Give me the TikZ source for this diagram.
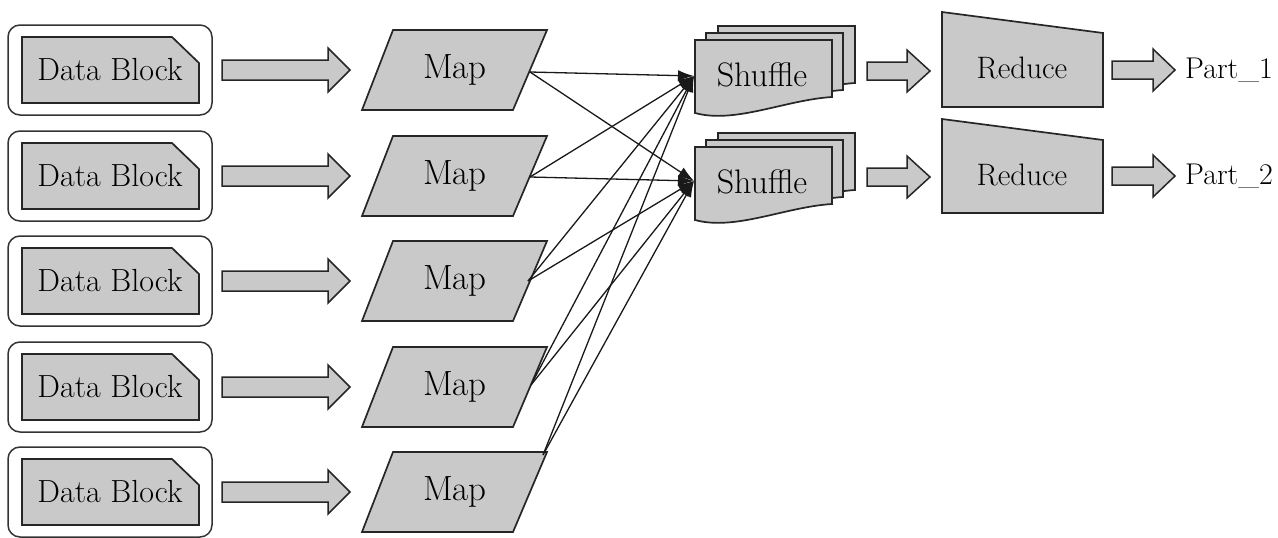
\documentclass[tikz,border=0pt]{standalone}
\usepackage{fontspec}
\usetikzlibrary{arrows.meta}
\newcommand\blockarr[6]{%
  \draw[barrow] (#1,{#4-#5}) -- (#2,{#4-#5}) -- (#2,{#4-#6}) -- (#3,#4) -- (#2,{#4+#6}) -- (#2,{#4+#5}) -- (#1,{#4+#5}) -- cycle;}
\newcommand\docpage[2]{%
  \draw[shp] (#1,#2) -- ({#1+137},#2) -- ({#1+137},{#2+57}) .. controls ({#1+90},{#2+60}) and ({#1+40},{#2+84}) .. (#1,{#2+73}) -- cycle;}
\begin{document}
\begin{tikzpicture}[x=1pt,y=-1pt,
  shp/.style={draw=black!85, line width=1.7pt, fill=black!21, line join=miter},
  outerbox/.style={draw=black!80, line width=1.5pt, rounded corners=12pt},
  barrow/.style={draw=black!85, line width=1.5pt, fill=black!21, line join=miter},
  conn/.style={draw=black!90, line width=1.3pt, -{Latex[length=16pt,width=11pt]}},
  lbl/.style={inner sep=0pt, font=\fontsize{32}{36}\selectfont},
  maplbl/.style={inner sep=0pt, font=\fontsize{35}{40}\selectfont},
  shlbl/.style={inner sep=0pt, font=\fontsize{34}{38}\selectfont},
  redlbl/.style={inner sep=0pt, font=\fontsize{31}{36}\selectfont},
  partlbl/.style={inner sep=0pt, anchor=west, font=\fontsize{30}{34}\selectfont}
]
\useasboundingbox (0,0) rectangle (1278,538);

% connector endpoints
\coordinate (mo1) at (530,72);
\coordinate (mo2) at (530,177);
\coordinate (mo3) at (528,281);
\coordinate (mo4) at (531,385);
\coordinate (mo5) at (543,455);
\coordinate (s1in) at (694,76);
\coordinate (s2in) at (694,181);

% rows: data blocks, arrows, maps
\foreach \c [count=\i] in {70,176,281,387,492} {
  \draw[outerbox] (8,{\c-45}) rectangle (212,{\c+45});
  \draw[shp] (22,{\c-33}) -- (172,{\c-33}) -- (199,{\c-7}) -- (199,{\c+33}) -- (22,{\c+33}) -- cycle;
  \node[lbl] (d\i) at (110,\c) {Data Block};
  \blockarr{222}{328}{350}{\c}{10}{22}
  \draw[shp] (393,{\c-40}) -- (547,{\c-40}) -- (513,{\c+40}) -- (362,{\c+40}) -- cycle;
  \node[maplbl] (m\i) at (455,\c) {Map};
}

% connectors map -> shuffle
\foreach \i in {1,...,5} {
  \draw[conn] (mo\i) -- (s1in);
  \draw[conn] (mo\i) -- (s2in);
}

% shuffle stacks
\foreach \y [count=\s] in {40,147} {
  \docpage{718}{\y-14}
  \docpage{706}{\y-7}
  \docpage{695}{\y}
  \node[shlbl] (sh\s) at (762,{\y+35}) {Shuffle};
}

% shuffle -> reduce arrows
\blockarr{867}{907}{930}{71}{9}{21}
\blockarr{867}{907}{930}{177}{9}{21}

% reduce
\draw[shp] (942,12) -- (1103,33) -- (1103,107) -- (942,107) -- cycle;
\node[redlbl] (r1) at (1022,68) {Reduce};
\draw[shp] (942,119) -- (1103,140) -- (1103,213) -- (942,213) -- cycle;
\node[redlbl] (r2) at (1022,175) {Reduce};

% reduce -> part arrows
\blockarr{1112}{1153}{1175}{70}{9}{21}
\blockarr{1112}{1153}{1175}{176}{9}{21}

\node[partlbl] (p1) at (1185,70) {Part\_1};
\node[partlbl] (p2) at (1185,176) {Part\_2};
\end{tikzpicture}
\end{document}
